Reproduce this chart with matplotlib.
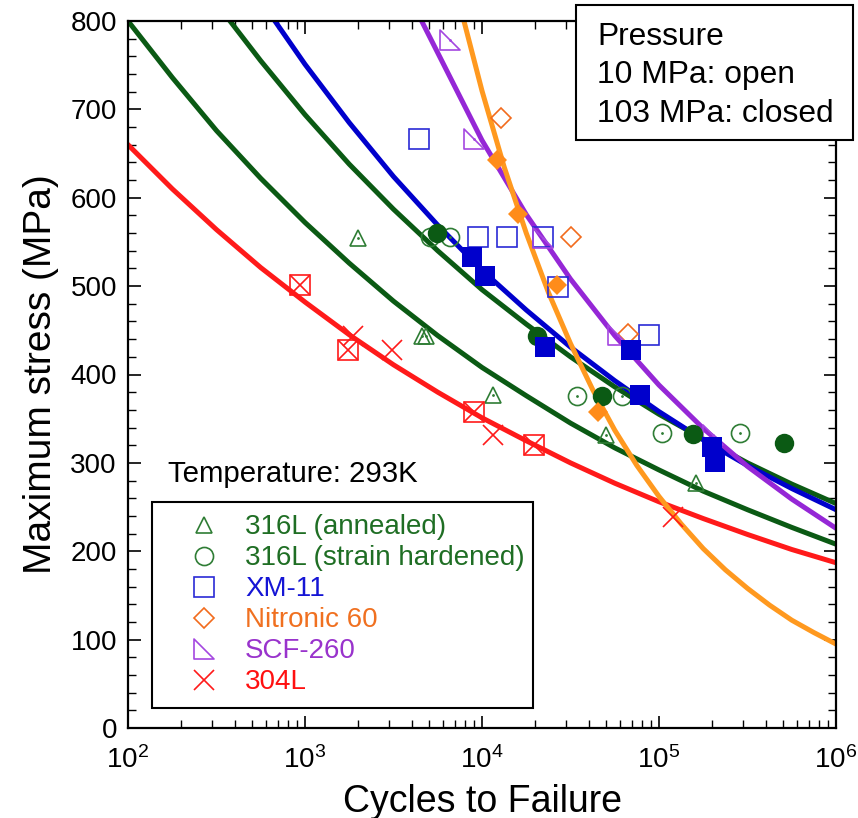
import numpy as np
import matplotlib
matplotlib.use("Agg")
import matplotlib.pyplot as plt
from matplotlib.path import Path
from matplotlib.lines import Line2D
from matplotlib.patches import Rectangle
from matplotlib.ticker import LogLocator, MultipleLocator, NullFormatter

plt.rcParams['font.family'] = ['Liberation Sans', 'DejaVu Sans']

# Fit curves (every quarter decade)
fit_304L_n = [100, 178, 316, 562, 1000, 1778, 3162, 5623, 10000, 17783, 31623,
              56234, 100000, 177828, 316228, 562341, 1000000]
fit_304L_s = [660, 610, 564, 521, 482, 445, 411, 380, 351, 325, 300, 277, 256,
              237, 219, 202, 187]

fit_316La_n = [100, 178, 316, 562, 1000, 1778, 3162, 5623, 10000, 17783, 31623,
               56234, 100000, 177828, 316228, 562341, 1000000]
fit_316La_s = [800, 736, 676, 622, 572, 526, 483, 444, 408, 376, 345, 317, 292,
               268, 247, 227, 208]

fit_316Lsh_n = [377, 562, 1000, 1778, 3162, 5623, 10000, 17783, 31623, 56234,
                100000, 177828, 316228, 562341, 1000000]
fit_316Lsh_s = [800, 755, 694, 638, 587, 540, 496, 457, 420, 386, 355, 327, 300,
                276, 254]

fit_xm11_n = [676, 1000, 1778, 3162, 5623, 10000, 17783, 31623, 56234, 100000,
              177828, 316228, 562341, 1000000]
fit_xm11_s = [800, 751, 685, 624, 569, 518, 473, 431, 393, 358, 326, 297, 271, 247]

fit_scf_n = [4560, 10000, 17783, 31623, 56234, 100000, 177828, 316228, 562341, 1000000]
fit_scf_s = [800, 665, 581, 508, 444, 388, 339, 296, 259, 226]

fit_nit_n = [7907, 10000, 13335, 17783, 23714, 31623, 42170, 56234, 74989, 100000,
             133352, 177828, 237137, 316228, 421697, 562341, 749894, 1000000]
fit_nit_s = [800, 721, 635, 560, 493, 435, 383, 337, 297, 262,
             231, 203, 179, 158, 139, 122, 108, 95]

# Test points: open = 10 MPa, closed = 103 MPa
a316_open_n = [2000, 4600, 4800, 11600, 50000, 161000]
a316_open_s = [555, 443, 443, 377, 332, 277]

sh316_open_n = [5100, 6600, 34500, 61500, 103500, 287000]
sh316_open_s = [556, 556, 376, 376, 334, 334]
sh316_closed_n = [5550, 20400, 47400, 156000, 508000]
sh316_closed_s = [560, 443, 376, 333, 323]

xm_open_n = [4430, 9530, 13800, 22200, 27000, 88100]
xm_open_s = [667, 556, 556, 556, 499, 445]
xm_closed_n = [8730, 10400, 22700, 69200, 78200, 198600, 207000]
xm_closed_s = [533, 512, 431, 428, 377, 318, 301]

nit_open_n = [12800, 32000, 67100]
nit_open_s = [690, 556, 446]
nit_closed_n = [12200, 16000, 26400, 45400]
nit_closed_s = [643, 582, 501, 358]

scf_open_n = [6590, 9020, 22200, 58900, 203000]
scf_open_s = [778, 666, 555, 445, 332]

l304_open_n = [1870, 3090, 11600, 120500]
l304_open_s = [443, 428, 331, 239]
l304_closed_n = [937, 1740, 9020, 19700]
l304_closed_s = [501, 428, 358, 320]

# Colours
c_green_line = '#0b5a14'
c_green = '#2f7d35'
c_blue = '#0000cc'
c_blue_open = '#2a2ad6'
c_orange_line = '#ff991f'
c_orange = '#f26b1d'
c_orange_fill = '#ff8c1a'
c_purple = '#9527d6'
c_purple_open = '#a447e0'
c_red = '#ff1a1a'

# right triangle marker for SCF-260
rtri = Path([(-1, 1), (-1, -1), (1, -1), (-1, 1)],
            [Path.MOVETO, Path.LINETO, Path.LINETO, Path.CLOSEPOLY])

fig = plt.figure(figsize=(8.58, 8.18), dpi=100)
ax = fig.add_axes([128 / 858, 90 / 818, 708 / 858, 707 / 818])

lw = 3.6
ax.plot(fit_304L_n, fit_304L_s, color=c_red, lw=lw, zorder=2)
ax.plot(fit_316La_n, fit_316La_s, color=c_green_line, lw=lw, zorder=2)
ax.plot(fit_316Lsh_n, fit_316Lsh_s, color=c_green_line, lw=lw, zorder=2)
ax.plot(fit_xm11_n, fit_xm11_s, color=c_blue, lw=lw, zorder=2)
ax.plot(fit_scf_n, fit_scf_s, color=c_purple, lw=lw, zorder=2)
ax.plot(fit_nit_n, fit_nit_s, color=c_orange_line, lw=lw, zorder=2)

mew = 1.2
# 316L annealed
ax.plot(a316_open_n, a316_open_s, ls='none', marker='^', ms=12, mfc='none',
        mec=c_green, mew=mew, zorder=3)
ax.plot(a316_open_n, a316_open_s, ls='none', marker='.', ms=2, color=c_green, zorder=3)
# 316L strain hardened
ax.plot(sh316_open_n, sh316_open_s, ls='none', marker='o', ms=13, mfc='none',
        mec=c_green, mew=mew, zorder=3)
ax.plot(sh316_open_n, sh316_open_s, ls='none', marker='.', ms=2, color=c_green, zorder=3)
ax.plot(sh316_closed_n, sh316_closed_s, ls='none', marker='o', ms=14,
        color=c_green_line, mew=0, zorder=4)
# XM-11
ax.plot(xm_open_n, xm_open_s, ls='none', marker='s', ms=14, mfc='none',
        mec=c_blue_open, mew=mew, zorder=3)
ax.plot(xm_closed_n, xm_closed_s, ls='none', marker='s', ms=14.5,
        color=c_blue, mew=0, zorder=4)
# Nitronic 60
ax.plot(nit_open_n, nit_open_s, ls='none', marker='D', ms=10, mfc='none',
        mec=c_orange, mew=mew, zorder=3)
ax.plot(nit_closed_n, nit_closed_s, ls='none', marker='D', ms=10.5,
        color=c_orange_fill, mew=0, zorder=4)
# SCF-260
ax.plot(scf_open_n, scf_open_s, ls='none', marker=rtri, ms=14, mfc='none',
        mec=c_purple_open, mew=mew, zorder=3)
ax.plot(scf_open_n, scf_open_s, ls='none', marker='.', ms=2, color=c_purple_open, zorder=3)
# 304L
ax.plot(l304_open_n, l304_open_s, ls='none', marker='x', ms=14,
        mec=c_red, mew=mew, zorder=3)
ax.plot(l304_closed_n, l304_closed_s, ls='none', marker='s', ms=14, mfc='none',
        mec=c_red, mew=mew, zorder=3)
ax.plot(l304_closed_n, l304_closed_s, ls='none', marker='x', ms=14,
        mec=c_red, mew=mew, zorder=3)

# Axes
ax.set_xscale('log')
ax.set_xlim(1e2, 1e6)
ax.set_ylim(0, 800)
ax.yaxis.set_major_locator(MultipleLocator(100))
ax.yaxis.set_minor_locator(MultipleLocator(20))
ax.xaxis.set_major_locator(LogLocator(base=10, numticks=10))
ax.xaxis.set_minor_locator(LogLocator(base=10, subs=np.arange(2, 10), numticks=20))
ax.xaxis.set_minor_formatter(NullFormatter())
ax.tick_params(which='both', direction='in', top=True, right=True, labelsize=20)
ax.tick_params(which='major', length=9, width=1.2)
ax.tick_params(which='minor', length=6, width=1.0)
ax.tick_params(axis='y', which='major', pad=8)
ax.tick_params(axis='x', which='major', pad=13)
for sp in ax.spines.values():
    sp.set_linewidth(1.6)

ax.set_xlabel('Cycles to Failure', fontsize=27, labelpad=7)
ax.set_ylabel('Maximum stress (MPa)', fontsize=28, labelpad=8)

ax.text(0.0565, 0.348, 'Temperature: 293K', transform=ax.transAxes,
        fontsize=21.2, va='baseline', ha='left')

# Legend
handles = [
    Line2D([], [], ls='none', marker='^', ms=12, mfc='none', mec=c_green, mew=mew),
    Line2D([], [], ls='none', marker='o', ms=13, mfc='none', mec=c_green, mew=mew),
    Line2D([], [], ls='none', marker='s', ms=14, mfc='none', mec=c_blue_open, mew=mew),
    Line2D([], [], ls='none', marker='D', ms=10, mfc='none', mec=c_orange, mew=mew),
    Line2D([], [], ls='none', marker=rtri, ms=14, mfc='none', mec=c_purple_open, mew=mew),
    Line2D([], [], ls='none', marker='x', ms=14, mec=c_red, mew=mew),
]
labels = ['316L (annealed)', '316L (strain hardened)', 'XM-11',
          'Nitronic 60', 'SCF-260', '304L']
label_colors = ['#1f6e24', '#1f6e24', '#1515d5', '#f07020', '#9933cc', '#ff1010']
leg = ax.legend(handles, labels, loc='lower left',
                bbox_to_anchor=(0.0339, 0.0283, 0.538, 0.2914), mode='expand',
                borderaxespad=0, fontsize=20, labelcolor=label_colors,
                fancybox=False, framealpha=1, edgecolor='black',
                handlelength=2.85, handletextpad=0.05, labelspacing=0.18,
                borderpad=0.45)
leg.get_frame().set_linewidth(1.5)

# Pressure box (outside axes, figure coordinates)
fig.patches.append(Rectangle((576 / 858, 1 - 140 / 818), 277 / 858, 135 / 818,
                             transform=fig.transFigure, fill=True, facecolor='white',
                             edgecolor='black', lw=1.5, zorder=5))
for txt, yb in [('Pressure', 45), ('10 MPa: open', 83), ('103 MPa: closed', 122)]:
    fig.text(597 / 858, 1 - yb / 818, txt, fontsize=22.9, va='baseline', ha='left', zorder=6)

fig.savefig('out.png', dpi=100)
